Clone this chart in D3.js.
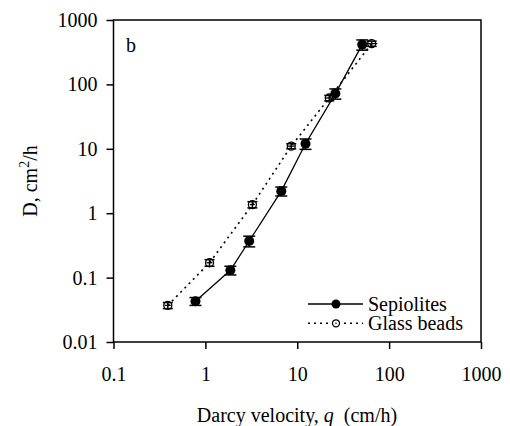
<!DOCTYPE html>
<html><head><meta charset="utf-8">
<script src="https://cdn.jsdelivr.net/npm/d3@7"></script>
<style>body{margin:0;background:#fff}svg{display:block}text{font-family:"Liberation Serif","Times New Roman",serif;fill:#000}</style>
</head><body><svg id="c" width="510" height="426"></svg>
<script>
// Data
const sepQ = [0.78, 1.87, 3.0, 6.7, 12.3, 26, 51];
const sepD = [0.043, 0.13, 0.37, 2.2, 12, 72, 415];
const sepErr = [0.006, 0.02, 0.07, 0.35, 2.2, 13, 75];
const glassQ = [0.39, 1.11, 3.25, 8.6, 22.3, 64.6];
const glassD = [0.037, 0.17, 1.36, 11, 61.5, 430];
const glassErr = [0.004, 0.02, 0.15, 1, 6, 40];
const glassQErr = [0.03, 0.08, 0.2, 0.8, 2, 10];
const xTicks = [0.1, 1, 10, 100, 1000];
const yTicks = [0.01, 0.1, 1, 10, 100, 1000];
const xTickLabels = ["0.1", "1", "10", "100", "1000"];
const yTickLabels = ["0.01", "0.1", "1", "10", "100", "1000"];
const seriesNames = ["Sepiolites", "Glass beads"];

const svg = d3.select("#c");
const L = 113.5, R = 481, T = 20, B = 342;
const x = d3.scaleLog().domain([0.1, 1000]).range([L, R]);
const y = d3.scaleLog().domain([0.01, 1000]).range([B, T]);

// box
svg.append("rect").attr("x", L).attr("y", T).attr("width", R - L).attr("height", B - T)
  .attr("fill", "none").attr("stroke", "#000").attr("stroke-width", 1.5);

const xAxis = svg.append("g").attr("transform", `translate(0,${B})`)
  .call(d3.axisBottom(x).tickValues(xTicks).tickSize(7).tickPadding(18)
    .tickFormat((d, i) => xTickLabels[i]));
const yAxis = svg.append("g").attr("transform", `translate(${L},0)`)
  .call(d3.axisLeft(y).tickValues(yTicks).tickSize(7).tickPadding(9)
    .tickFormat((d, i) => yTickLabels[i]));
[xAxis, yAxis].forEach(g => {
  g.select(".domain").remove();
  g.selectAll("line").attr("stroke", "#000").attr("stroke-width", 1.5);
  g.selectAll("text").attr("font-size", 20).attr("font-family", "Liberation Serif").attr("fill", "#000");
});

// axis titles
svg.append("text").attr("x", 297).attr("y", 422).attr("text-anchor", "middle").attr("font-size", 20)
  .attr("xml:space", "preserve")
  .html('Darcy velocity, <tspan font-style="italic">q</tspan>  (cm/h)');
svg.append("text").attr("transform", "translate(37,181) rotate(-90)").attr("text-anchor", "middle").attr("font-size", 20)
  .html('D, cm<tspan dy="-8" font-size="14">2</tspan><tspan dy="8">/h</tspan>');

svg.append("text").attr("x", 126).attr("y", 52).attr("font-size", 20).text("b");

const sep = sepQ.map((q, i) => ({q, d: sepD[i], e: sepErr[i]}));
const gls = glassQ.map((q, i) => ({q, d: glassD[i], e: glassErr[i], xe: glassQErr[i]}));
const line = d3.line().x(p => x(p.q)).y(p => y(p.d));

svg.append("path").datum(gls).attr("d", line).attr("fill", "none").attr("stroke", "#000")
  .attr("stroke-width", 1.6).attr("stroke-dasharray", "2,4");
svg.append("path").datum(sep).attr("d", line).attr("fill", "none").attr("stroke", "#000")
  .attr("stroke-width", 1.3);

// error bars
function vbars(data, cap) {
  const g = svg.append("g").attr("stroke", "#000").attr("stroke-width", 1.5);
  data.forEach(p => {
    const cx = x(p.q), y0 = y(p.d + p.e), y1 = y(p.d - p.e);
    g.append("line").attr("x1", cx).attr("x2", cx).attr("y1", y0).attr("y2", y1);
    g.append("line").attr("x1", cx - cap).attr("x2", cx + cap).attr("y1", y1).attr("y2", y1);
    g.append("line").attr("x1", cx - cap).attr("x2", cx + cap).attr("y1", y0).attr("y2", y0);
  });
}
vbars(sep, 6);
vbars(gls, 5);
const hg = svg.append("g").attr("stroke", "#000").attr("stroke-width", 1.3);
gls.forEach(p => {
  hg.append("line").attr("x1", x(p.q - p.xe)).attr("x2", x(p.q + p.xe)).attr("y1", y(p.d)).attr("y2", y(p.d));
});

svg.append("g").selectAll("circle").data(sep).join("circle")
  .attr("cx", p => x(p.q)).attr("cy", p => y(p.d)).attr("r", 5).attr("fill", "#000");
svg.append("g").selectAll("circle").data(gls).join("circle")
  .attr("cx", p => x(p.q)).attr("cy", p => y(p.d)).attr("r", 4).attr("fill", "none")
  .attr("stroke", "#000").attr("stroke-width", 1.3);
hg.raise();

// legend
const lg = svg.append("g");
[0, 1].forEach(i => {
  const ly = 304 + i * 19.3;
  lg.append("line").attr("x1", 308).attr("x2", 363).attr("y1", ly).attr("y2", ly)
    .attr("stroke", "#000").attr("stroke-width", i ? 1.6 : 1.3).attr("stroke-dasharray", i ? "2,4" : null);
  if (i === 0) lg.append("circle").attr("cx", 336).attr("cy", ly).attr("r", 4.5).attr("fill", "#000");
  else lg.append("circle").attr("cx", 336).attr("cy", ly).attr("r", 3.5).attr("fill", "#fff").attr("stroke", "#000").attr("stroke-width", 1.3);
  if (i === 1) lg.append("circle").attr("cx", 336).attr("cy", ly).attr("r", 0.8).attr("fill", "#000");
  lg.append("text").attr("x", 368).attr("y", ly).attr("dy", "0.35em").attr("font-size", 20).text(seriesNames[i]);
});
</script></body></html>
